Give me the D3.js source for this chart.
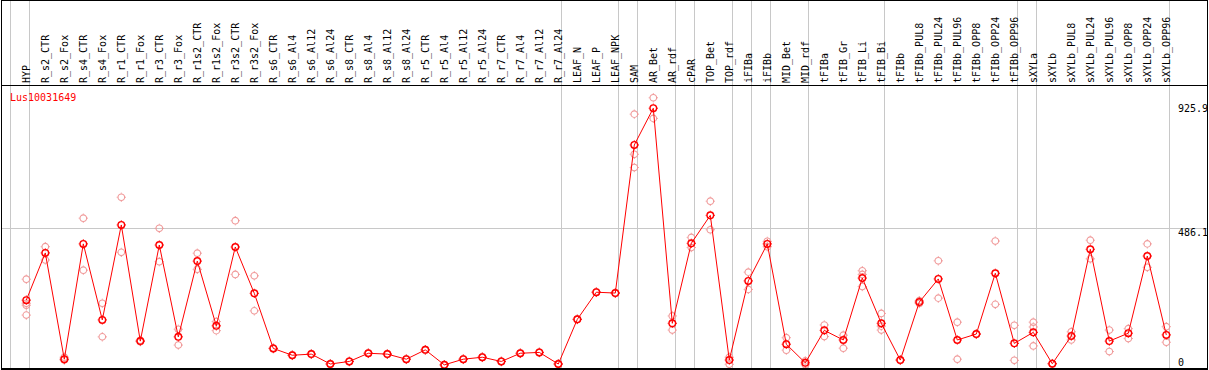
<!DOCTYPE html>
<html>
<head>
<meta charset="utf-8">
<script src="https://cdn.jsdelivr.net/npm/d3@7"></script>
<style>
  body { margin: 0; background: #fff; }
  svg { display: block; }
</style>
</head>
<body>
<div class="chart"></div>
<script>
const gene = "Lus10031649";

const samples = ["HYP", "R_s2_CTR", "R_s2_Fox", "R_s4_CTR", "R_s4_Fox", "R_r1_CTR", "R_r1_Fox",
  "R_r3_CTR", "R_r3_Fox", "R_r1s2_CTR", "R_r1s2_Fox", "R_r3s2_CTR", "R_r3s2_Fox", "R_s6_CTR",
  "R_s6_Al4", "R_s6_Al12", "R_s6_Al24", "R_s8_CTR", "R_s8_Al4", "R_s8_Al12", "R_s8_Al24",
  "R_r5_CTR", "R_r5_Al4", "R_r5_Al12", "R_r5_Al24", "R_r7_CTR", "R_r7_Al4", "R_r7_Al12", "R_r7_Al24",
  "LEAF_N", "LEAF_P", "LEAF_NPK", "SAM", "AR_Bet", "AR_rdf", "cPAR", "TOP_Bet", "TOP_rdf",
  "iFIBa", "iFIBb", "MID_Bet", "MID_rdf", "tFIBa", "tFIB_Gr", "tFIB_Li", "tFIB_Bi", "tFIBb",
  "tFIBb_PUL8", "tFIBb_PUL24", "tFIBb_PUL96", "tFIBb_OPP8", "tFIBb_OPP24", "tFIBb_OPP96",
  "sXYLa", "sXYLb", "sXYLb_PUL8", "sXYLb_PUL24", "sXYLb_PUL96", "sXYLb_OPP8", "sXYLb_OPP24", "sXYLb_OPP96"];

// number of samples in each group (separated by grey lines)
const groupSizes = [1, 28, 3, 1, 2, 1, 2, 1, 1, 2, 4, 7, 1, 7];

const means = [232, 399, 23, 431, 162, 498, 87, 427, 102, 370, 141, 420, 256, 61,
  37, 41, 6, 15, 44, 41, 23, 56, 3, 23, 30, 15, 44, 47, 6,
  164, 260, 257, 781, 911, 150, 433, 532, 20,
  300, 431, 76, 10, 125, 91, 310, 150, 20,
  225, 307, 91, 112, 327, 79,
  118, 7, 105, 412, 87, 115, 388, 109];

const replicates = [
  [306, 221, 214, 179], [421, 374], [30, 20], [522, 338], [221, 102], [596, 401], [85, 90],
  [486, 368], [129, 73], [398, 341], [156, 124], [513, 323], [318, 194], [60, 63],
  [36, 38], [40, 42], [5, 7], [14, 16], [43, 45], [40, 42], [22, 24], [55, 57], [2, 3], [22, 24], [29, 31], [14, 16], [43, 45], [46, 48], [5, 7],
  [163, 165], [259, 261], [256, 258], [890, 748, 701], [948, 875], [176, 126], [454, 418], [582, 481], [30, 5],
  [331, 270], [440, 421], [99, 55], [17, 3], [144, 103], [108, 62], [336, 323, 280], [185, 140, 126], [19, 21],
  [230, 220], [371, 239], [154, 23], [111, 113], [441, 217], [143, 19],
  [154, 137, 70], [6, 8], [120, 91], [444, 378], [126, 50], [131, 96], [431, 348], [138, 83]];

const yTicks = [0, 486.1, 925.9];

const width = 1209;
const height = 370;
const headerY = 85.5;
const font = "'DejaVu Sans Mono', monospace";

const x = d3.scaleBand()
  .domain(samples)
  .range([11, 11 + 19 * samples.length])
  .padding(0);
const px = d => x(d) + 15.3;

const y = d3.scaleLinear()
  .domain([0, 925.9])
  .range([365.7, 104]);

const svg = d3.select(".chart")
  .append("svg")
  .attr("width", width)
  .attr("height", height)
  .style("font", "10px " + font);

// group separators
const bounds = [0, ...d3.cumsum(groupSizes)];
svg.append("g")
  .selectAll("line")
  .data(bounds)
  .join("line")
    .attr("x1", d => Math.round(11 + x.bandwidth() * d) - 0.5)
    .attr("x2", d => Math.round(11 + x.bandwidth() * d) - 0.5)
    .attr("y1", 0)
    .attr("y2", height)
    .attr("stroke", "#c8c8c8")
    .attr("shape-rendering", "crispEdges");

// horizontal grid at middle value
svg.append("line")
  .attr("x1", 1).attr("x2", 1207)
  .attr("y1", Math.round(y(yTicks[1])) + 0.5)
  .attr("y2", Math.round(y(yTicks[1])) + 0.5)
  .attr("stroke", "#c8c8c8")
  .attr("shape-rendering", "crispEdges");

// header labels
svg.append("g")
  .selectAll("text")
  .data(samples)
  .join("text")
    .attr("transform", d => `translate(${px(d) + 3.5},83) rotate(-90)`)
    .attr("fill", "#000")
    .text(d => d);

// y value labels on the right
svg.append("g")
  .selectAll("text")
  .data(yTicks)
  .join("text")
    .attr("x", 1178)
    .attr("y", d => d === 0 ? y(d) : y(d) + 7.5)
    .attr("fill", "#000")
    .text(d => d);

svg.append("text")
  .attr("x", 10)
  .attr("y", 101)
  .attr("fill", "red")
  .text(gene);

// circle marker with small nubs
const marker = (g, color, sw) => {
  g.append("circle")
    .attr("r", 3.3)
    .attr("fill", "none")
    .attr("stroke", color)
    .attr("stroke-width", sw);
  g.append("path")
    .attr("d", "M0,-4.6V-3.6M0,3.6V4.6M-4.6,0H-3.6M3.6,0H4.6")
    .attr("stroke", color)
    .attr("stroke-width", 1);
};

// replicate points
const reps = samples.flatMap((s, i) => replicates[i].map(v => ({ s, v })));
svg.append("g")
  .selectAll("g")
  .data(reps)
  .join("g")
    .attr("transform", d => `translate(${px(d.s)},${y(d.v)})`)
    .each(function() { marker(d3.select(this), "#f09a9a", 1.1); });

// mean line
svg.append("path")
  .datum(means)
  .attr("fill", "none")
  .attr("stroke", "red")
  .attr("stroke-width", 1)
  .attr("d", d3.line().x((d, i) => px(samples[i])).y(d => y(d)));

svg.append("g")
  .selectAll("g")
  .data(means)
  .join("g")
    .attr("transform", (d, i) => `translate(${px(samples[i])},${y(d)})`)
    .each(function() { marker(d3.select(this), "red", 1.4); });

// header line and frame
svg.append("line")
  .attr("x1", 1).attr("x2", 1207)
  .attr("y1", headerY).attr("y2", headerY)
  .attr("stroke", "#000")
  .attr("shape-rendering", "crispEdges");

svg.append("rect")
  .attr("x", 1.5).attr("y", 0.5)
  .attr("width", 1206).attr("height", 368.5)
  .attr("fill", "none")
  .attr("stroke", "#000")
  .attr("stroke-width", 1.5)
  .attr("shape-rendering", "crispEdges");
</script>
</body>
</html>
